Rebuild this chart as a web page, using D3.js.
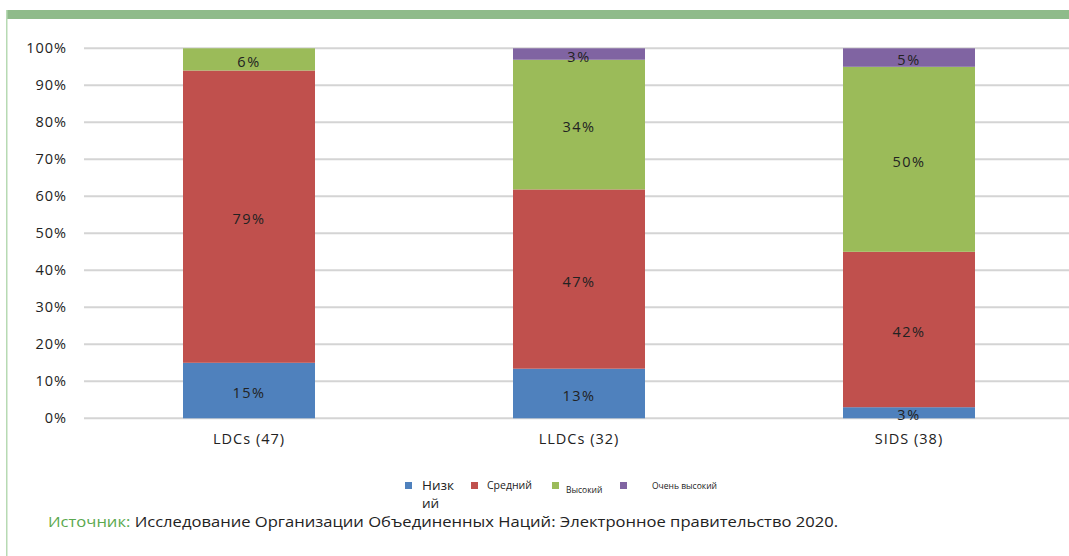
<!DOCTYPE html>
<html>
<head>
<meta charset="utf-8">
<script src="https://cdn.jsdelivr.net/npm/d3@7"></script>
<style>
  body { margin: 0; background: #fff; }
  svg text { font-family: "Open Sans", "DejaVu Sans", sans-serif; fill: #222; }
</style>
</head>
<body>
<svg id="chart" width="1069" height="556"></svg>
<script>
// chart data
var categories = ["LDCs (47)", "LLDCs (32)", "SIDS (38)"];
var seriesNames = ["Низкий", "Средний", "Высокий", "Очень высокий"];
var low = [15, 13, 3];
var medium = [79, 47, 42];
var high = [6, 34, 50];
var veryHigh = [0, 3, 5];
var yTicks = [0, 0.1, 0.2, 0.3, 0.4, 0.5, 0.6, 0.7, 0.8, 0.9, 1];
var colors = ["#4f81bd", "#c0504d", "#9bbb59", "#8064a2"];

var svg = d3.select("#chart");

// frame decoration
svg.append("rect").attr("x", 6).attr("y", 10).attr("width", 1063).attr("height", 9).attr("fill", "#8fbb8a");
svg.append("rect").attr("x", 6).attr("y", 10).attr("width", 1.5).attr("height", 546).attr("fill", "#b7dab3");

var rows = categories.map(function (c, i) {
    return { cat: c, "Низкий": low[i], "Средний": medium[i], "Высокий": high[i], "Очень высокий": veryHigh[i] };
});

var stack = d3.stack().keys(seriesNames).offset(d3.stackOffsetExpand);
var layers = stack(rows);

var x = d3.scaleBand().domain(categories).range([84, 1074]).paddingInner(0.6).paddingOuter(0.3);
var y = d3.scaleLinear().domain([0, 1]).range([418.3, 48.3]);

// gridlines
svg.append("g").selectAll("line").data(yTicks).enter().append("line")
    .attr("x1", 84).attr("x2", 1069)
    .attr("y1", function (d) { return y(d); })
    .attr("y2", function (d) { return y(d); })
    .attr("stroke", "#d4d4d4").attr("stroke-width", 2);

var yAxis = d3.axisLeft(y).tickValues(yTicks).tickFormat(d3.format(".0%")).tickSize(0).tickPadding(0);
var ya = svg.append("g").attr("transform", "translate(67,0)").call(yAxis);
ya.select(".domain").remove();
ya.selectAll("text").style("font-size", "14.5px").style("letter-spacing", "1px").attr("fill", "#222");

var xAxis = d3.axisBottom(x).tickSize(0).tickPadding(0);
var xa = svg.append("g").attr("transform", "translate(0,434)").call(xAxis);
xa.select(".domain").remove();
xa.selectAll("text").style("font-size", "14.5px").style("letter-spacing", "1px").attr("fill", "#222");

// bars
var layerG = svg.append("g").selectAll("g").data(layers).enter().append("g")
    .attr("fill", function (d, i) { return colors[i]; });

layerG.selectAll("rect").data(function (d) { return d; }).enter().append("rect")
    .attr("x", function (d) { return x(d.data.cat); })
    .attr("width", x.bandwidth())
    .attr("y", function (d) { return y(d[1]); })
    .attr("height", function (d) { return y(d[0]) - y(d[1]); });

// data labels
layers.forEach(function (layer) {
    svg.append("g").selectAll("text").data(layer.filter(function (d) { return d.data[layer.key] > 0; }))
        .enter().append("text")
        .attr("x", function (d) { return x(d.data.cat) + x.bandwidth() / 2; })
        .attr("y", function (d) { return (y(d[0]) + y(d[1])) / 2 + 2.5; })
        .attr("dy", "0.35em")
        .attr("text-anchor", "middle")
        .style("font-size", "14.5px")
        .style("letter-spacing", "1.5px")
        .text(function (d) { return d.data[layer.key] + "%"; });
});

// legend (mixed sizes as in the original)
var legend = [
    { sx: 405, sy: 482, tx: 422, ty: 490, size: 13.5, lines: ["Низк", "ий"] },
    { sx: 471, sy: 482, tx: 487, ty: 489, size: 10.5, lines: ["Средний"] },
    { sx: 552, sy: 482, tx: 566, ty: 493, size: 8.5, lines: ["Высокий"] },
    { sx: 620, sy: 482, tx: 652, ty: 489, size: 8.5, lines: ["Очень высокий"] }
];
legend.forEach(function (d, i) {
    svg.append("rect").attr("x", d.sx).attr("y", d.sy).attr("width", 7).attr("height", 7).attr("fill", colors[i]);
    var t = svg.append("text").attr("x", d.tx).attr("y", d.ty).style("font-size", d.size + "px");
    d.lines.forEach(function (l, j) {
        t.append("tspan").attr("x", d.tx).attr("dy", j === 0 ? 0 : 18).text(l);
    });
});

// source line
var src = svg.append("text").attr("x", 48).attr("y", 527)
    .style("font-size", "15px")
    .attr("textLength", 790).attr("lengthAdjust", "spacingAndGlyphs");
src.append("tspan").style("fill", "#5aa84e").text("Источник: ");
src.append("tspan").text("Исследование Организации Объединенных Наций: Электронное правительство 2020.");
</script>
</body>
</html>
